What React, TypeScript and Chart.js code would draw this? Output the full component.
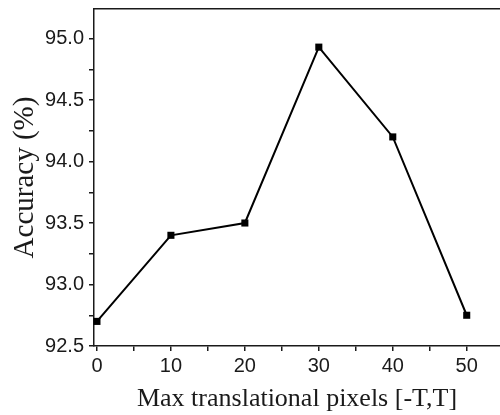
import React, { useEffect, useRef } from "react";
import { Chart, registerables } from "chart.js";

Chart.register(...registerables);

const xValues = [0, 10, 20, 30, 40, 50];
const accuracy = [92.7, 93.4, 93.5, 94.93, 94.2, 92.75];
const xTicks = [0, 5, 10, 15, 20, 25, 30, 35, 40, 45, 50];
const xLabeled = [0, 10, 20, 30, 40, 50];
const yTicks = [92.5, 92.75, 93.0, 93.25, 93.5, 93.75, 94.0, 94.25, 94.5, 94.75, 95.0];
const yLabeled = [92.5, 93.0, 93.5, 94.0, 94.5, 95.0];
const xTitle = "Max translational pixels [-T,T]";
const yTitle = "Accuracy (%)";

const SANS = "'Liberation Sans', Arial, sans-serif";
const SERIF = "'Liberation Serif', 'Times New Roman', serif";
const INK = "#1a1a1a";

export default function App() {
  const ref = useRef<HTMLCanvasElement | null>(null);
  useEffect(() => {
    document.body.style.margin = "0";
    const canvas = ref.current;
    if (!canvas) return;
    const chart = new Chart(canvas, {
      type: "scatter",
      data: {
        datasets: [
          {
            data: xValues.map((x, i) => ({ x, y: accuracy[i] })),
            showLine: true,
            borderColor: "#000",
            backgroundColor: "#000",
            borderWidth: 2,
            pointStyle: "rect",
            pointRadius: 5,
            pointBorderWidth: 0,
            pointBackgroundColor: "#000",
            clip: false,
          },
        ],
      },
      options: {
        responsive: false,
        animation: false,
        layout: { autoPadding: false, padding: { top: 9, right: 0, left: 0, bottom: 0 } },
        plugins: { legend: { display: false }, tooltip: { enabled: false } },
        scales: {
          x: {
            type: "linear",
            position: "bottom",
            min: -0.4,
            max: 54.5,
            afterBuildTicks: (s: any) => {
              s.ticks = xTicks.map((v) => ({ value: v }));
            },
            afterFit: (s: any) => {
              s.height = 69;
              s.paddingLeft = 0;
              s.paddingRight = 0;
            },
            ticks: {
              autoSkip: false,
              maxRotation: 0,
              color: INK,
              padding: 3,
              font: { family: SANS, size: 20 },
              callback: (v: any) => (xLabeled.includes(Number(v)) ? String(v) : ""),
            },
            grid: { drawOnChartArea: false, drawTicks: true, tickLength: 5, color: INK, lineWidth: 1.5 },
            border: { display: true, color: INK, width: 1.5 },
            title: {
              display: true,
              text: xTitle,
              color: INK,
              font: { family: SERIF, size: 26 },
              padding: { top: 0, bottom: 0 },
            },
          },
          xTop: {
            type: "linear",
            position: "top",
            min: -0.4,
            max: 54.5,
            afterFit: (s: any) => {
              s.height = 0;
              s.paddingLeft = 0;
              s.paddingRight = 0;
            },
            ticks: { display: false },
            grid: { drawOnChartArea: false, drawTicks: false },
            border: { display: true, color: INK, width: 1.5 },
          },
          y: {
            type: "linear",
            position: "left",
            min: 92.5,
            max: 95.24,
            afterBuildTicks: (s: any) => {
              s.ticks = yTicks.map((v) => ({ value: v }));
            },
            afterFit: (s: any) => {
              s.width = 94;
              s.paddingTop = 0;
              s.paddingBottom = 0;
            },
            ticks: {
              autoSkip: false,
              color: INK,
              padding: 5,
              font: { family: SANS, size: 20 },
              callback: (v: any) => {
                const n = Number(v);
                return yLabeled.some((t) => Math.abs(t - n) < 1e-6) ? n.toFixed(1) : "";
              },
            },
            grid: { drawOnChartArea: false, drawTicks: true, tickLength: 5, color: INK, lineWidth: 1.5 },
            border: { display: true, color: INK, width: 1.5 },
            title: {
              display: true,
              text: yTitle,
              color: INK,
              font: { family: SERIF, size: 29 },
              padding: { top: 8, bottom: 0 },
            },
          },
        },
      },
    });
    return () => chart.destroy();
  }, []);
  return (
    <div style={{ width: 500, height: 415 }}>
      <canvas ref={ref} width={500} height={415} style={{ display: "block" }} />
    </div>
  );
}
